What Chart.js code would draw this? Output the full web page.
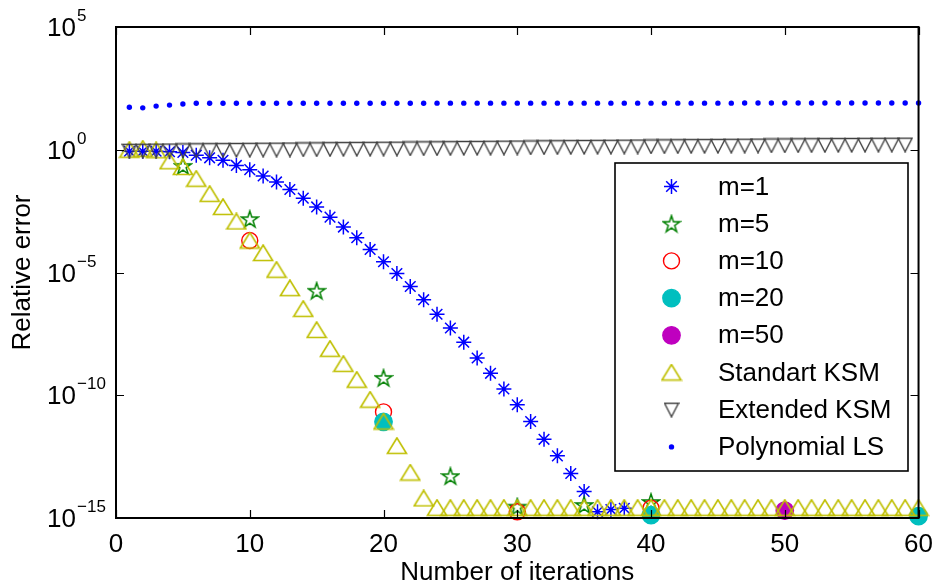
<!DOCTYPE html>
<html>
<head>
<meta charset="utf-8">
<title>Relative error vs iterations</title>
<script src="https://cdn.jsdelivr.net/npm/chart.js@4.4.1/dist/chart.umd.min.js"></script>
<style>
  html, body { margin: 0; padding: 0; background: #fff; }
  canvas { display: block; }
</style>
</head>
<body>
<canvas id="errChart" width="944" height="588"></canvas>
<script>
// Iteration numbers (x axis)
const iterations = [
    1, 2, 3, 4, 5, 6, 7, 8, 9, 10, 11, 12, 13, 14, 15, 16, 17, 18, 19, 20,
    21, 22, 23, 24, 25, 26, 27, 28, 29, 30, 31, 32, 33, 34, 35, 36, 37, 38, 39, 40,
    41, 42, 43, 44, 45, 46, 47, 48, 49, 50, 51, 52, 53, 54, 55, 56, 57, 58, 59, 60
];
const restartIters5 = [5, 10, 15, 20, 25, 30, 35, 40];
const restartIters10 = [10, 20, 30, 40, 50, 60];
const restartIters20 = [20, 40, 60];
const restartIters50 = [50];

// Relative error per method
const errM1 = [
    0.87, 0.87, 0.87, 0.83, 0.78, 0.60, 0.47, 0.37, 0.23, 0.155,
    8.5e-2, 4.9e-2, 2.4e-2, 1.07e-2, 4.7e-3, 1.8e-3, 7.1e-4, 2.6e-4, 8.7e-5, 2.75e-5,
    9.1e-6, 2.7e-6, 7.8e-7, 2.0e-7, 5.5e-8, 1.45e-8, 3.3e-9, 7.8e-10, 1.8e-10, 4.1e-11,
    8.5e-12, 1.6e-12, 3.4e-13, 6.5e-14, 1.2e-14, 1.8e-15, 2.2e-15, 2.5e-15
];
const errM5 = [0.22, 1.5e-3, 1.8e-6, 5.1e-10, 5.1e-14, 2.9e-15, 3.4e-15, 4.5e-15];
const errM10 = [2.0e-4, 2.1e-11, 1.8e-15, 2.5e-15, 2.0e-15, 1.2e-15];
const errM20 = [8.3e-12, 1.3e-15, 1.2e-15];
const errM50 = [2.0e-15];
const errStandard = [
    1.0, 1.1, 0.95, 0.34, 0.20, 6.6e-2, 1.6e-2, 4.7e-3, 1.2e-3, 2.0e-4,
    6.2e-5, 1.3e-5, 2.3e-6, 3.3e-7, 4.6e-8, 7.8e-9, 1.9e-9, 4.3e-10, 6.6e-11, 8.5e-12,
    8.7e-13, 7.1e-14, 6.3e-15, 2.6e-15, 2.6e-15, 2.6e-15, 2.6e-15, 2.6e-15, 2.6e-15, 2.6e-15,
    2.6e-15, 2.6e-15, 2.6e-15, 2.6e-15, 2.6e-15, 2.6e-15, 2.6e-15, 2.6e-15, 2.6e-15, 2.6e-15,
    2.6e-15, 2.6e-15, 2.6e-15, 2.6e-15, 2.6e-15, 2.6e-15, 2.6e-15, 2.6e-15, 2.6e-15, 2.6e-15,
    2.6e-15, 2.6e-15, 2.6e-15, 2.6e-15, 2.6e-15, 2.6e-15, 2.6e-15, 2.6e-15, 2.6e-15, 2.6e-15
];
const errExtended = [
    0.90, 0.91, 0.92, 0.93, 0.94, 0.95, 0.96, 0.97, 0.98, 0.99,
    1.00, 1.01, 1.02, 1.03, 1.04, 1.06, 1.07, 1.08, 1.09, 1.10,
    1.11, 1.13, 1.14, 1.15, 1.16, 1.18, 1.19, 1.20, 1.22, 1.23,
    1.24, 1.26, 1.27, 1.28, 1.30, 1.31, 1.32, 1.34, 1.35, 1.36,
    1.38, 1.39, 1.41, 1.42, 1.43, 1.45, 1.46, 1.48, 1.49, 1.50,
    1.52, 1.53, 1.55, 1.56, 1.57, 1.58, 1.59, 1.60, 1.61
];
const errPolyLS = [
    54, 51, 60, 66, 73, 78, 78, 78, 78, 78,
    78, 78, 78, 78, 78, 78, 78, 78, 78, 78,
    78, 78, 78, 79, 79, 79, 79, 79, 79, 79,
    79, 79, 79, 79, 79, 79, 79, 79, 79, 79,
    79, 79, 79, 79, 79, 79, 80, 80, 80, 80,
    80, 80, 80, 80, 80, 80, 80, 80, 80, 80
];

const seriesLabels = ['m=1', 'm=5', 'm=10', 'm=20', 'm=50', 'Standart KSM', 'Extended KSM', 'Polynomial LS'];
const xTicks = [0, 10, 20, 30, 40, 50, 60];
const yTicks = [1e-15, 1e-10, 1e-5, 1, 1e5];

const FONT = "'Liberation Sans', Arial, Helvetica, sans-serif";

// ---- marker sprites for shapes Chart.js lacks ----
function sprite(w, h, draw) {
    const c = document.createElement('canvas');
    c.width = w;
    c.height = h;
    draw(c.getContext('2d'));
    return c;
}

const pentagram = sprite(20, 20, g => {
    const R = 8.8, r = R * 0.382, cx = 10, cy = 10.7;
    g.beginPath();
    for (let i = 0; i < 10; i++) {
        const a = -Math.PI / 2 + i * Math.PI / 5;
        const rad = i % 2 ? r : R;
        g.lineTo(cx + rad * Math.cos(a), cy + rad * Math.sin(a));
    }
    g.closePath();
    g.strokeStyle = '#008000';
    g.lineWidth = 1.5;
    g.stroke();
});

const triUp = sprite(22, 18, g => {
    g.beginPath();
    g.moveTo(11, 1);
    g.lineTo(1.5, 16.5);
    g.lineTo(20.5, 16.5);
    g.closePath();
    g.strokeStyle = '#bfbf00';
    g.lineWidth = 1.6;
    g.stroke();
});

const triDown = sprite(16, 16, g => {
    g.beginPath();
    g.moveTo(1, 1.5);
    g.lineTo(15, 1.5);
    g.lineTo(8, 15);
    g.closePath();
    g.strokeStyle = '#404040';
    g.lineWidth = 1.4;
    g.stroke();
});

const zip = (xs, ys) => ys.map((y, i) => ({ x: xs[i], y }));

function series(label, data, style) {
    return Object.assign({
        label,
        data,
        showLine: false,
        clip: false,
        pointBorderWidth: 1.4,
        pointBackgroundColor: 'rgba(0,0,0,0)'
    }, style);
}

const datasets = [
    series(seriesLabels[0], zip(iterations, errM1), {
        pointStyle: 'star', pointRadius: 7.5, pointBorderWidth: 1.5, pointBorderColor: '#0000ff'
    }),
    series(seriesLabels[1], zip(restartIters5, errM5), {
        pointStyle: pentagram, pointRadius: 8, pointBorderColor: '#008000'
    }),
    series(seriesLabels[2], zip(restartIters10, errM10), {
        pointStyle: 'circle', pointRadius: 8, pointBorderColor: '#ff0000'
    }),
    series(seriesLabels[3], zip(restartIters20, errM20), {
        pointStyle: 'circle', pointRadius: 8.7, pointBorderColor: '#00bfbf', pointBackgroundColor: '#00bfbf'
    }),
    series(seriesLabels[4], zip(restartIters50, errM50), {
        pointStyle: 'circle', pointRadius: 8.7, pointBorderColor: '#bf00bf', pointBackgroundColor: '#bf00bf'
    }),
    series(seriesLabels[5], zip(iterations, errStandard), {
        pointStyle: triUp, pointRadius: 9, pointBorderColor: '#bfbf00'
    }),
    series(seriesLabels[6], zip(iterations, errExtended), {
        pointStyle: triDown, pointRadius: 7, pointBorderColor: '#404040'
    }),
    series(seriesLabels[7], zip(iterations, errPolyLS), {
        pointStyle: 'circle', pointRadius: 2.7, pointBorderWidth: 0,
        pointBorderColor: '#0000ff', pointBackgroundColor: '#0000ff'
    })
];
// later series sit on top of earlier ones
datasets.forEach((d, i) => { d.order = datasets.length - i; });

// Axes box, inward ticks, 10^k labels and the boxed legend
const framePlugin = {
    id: 'frame',
    afterDatasetsDraw(chart) {
        const { ctx, chartArea: a } = chart;
        const xs = chart.scales.x, ys = chart.scales.y;
        ctx.save();

        ctx.strokeStyle = '#000';
        ctx.lineWidth = 1.2;
        ctx.beginPath();
        xTicks.forEach(v => {
            const px = Math.round(xs.getPixelForValue(v)) + 0.5;
            ctx.moveTo(px, a.bottom); ctx.lineTo(px, a.bottom - 8);
            ctx.moveTo(px, a.top); ctx.lineTo(px, a.top + 8);
        });
        yTicks.forEach(v => {
            const py = Math.round(ys.getPixelForValue(v)) + 0.5;
            ctx.moveTo(a.left, py); ctx.lineTo(a.left + 8, py);
            ctx.moveTo(a.right, py); ctx.lineTo(a.right - 8, py);
        });
        ctx.stroke();

        ctx.lineWidth = 2;
        ctx.strokeRect(a.left, a.top, a.right - a.left, a.bottom - a.top);

        // y tick labels as 10 with a raised exponent
        ctx.fillStyle = '#000';
        ctx.textBaseline = 'middle';
        ctx.textAlign = 'left';
        yTicks.forEach(v => {
            const py = ys.getPixelForValue(v);
            const exp = Math.round(Math.log10(v));
            ctx.font = '26px ' + FONT;
            ctx.fillText('10', 47, py + 2);
            ctx.font = '17px ' + FONT;
            ctx.fillText(exp < 0 ? '\u2212' + (-exp) : String(exp), 77, py - 10.5);
        });

        // legend
        const box = { left: 615, top: 163, right: 908, bottom: 471 };
        ctx.fillStyle = '#fff';
        ctx.fillRect(box.left, box.top, box.right - box.left, box.bottom - box.top);
        ctx.lineWidth = 1.6;
        ctx.strokeStyle = '#000';
        ctx.strokeRect(box.left, box.top, box.right - box.left, box.bottom - box.top);

        const drawPoint = Chart.helpers && Chart.helpers.drawPoint;
        chart.data.datasets.forEach((d, i) => {
            const rowY = box.top + 23.5 + i * 37.2;
            if (drawPoint) {
                ctx.save();
                ctx.strokeStyle = d.pointBorderColor;
                ctx.fillStyle = d.pointBackgroundColor;
                ctx.lineWidth = d.pointBorderWidth;
                drawPoint(ctx, {
                    pointStyle: d.pointStyle,
                    radius: d.pointRadius,
                    rotation: 0,
                    borderWidth: d.pointBorderWidth
                }, 671.5, rowY);
                ctx.restore();
            }
            ctx.fillStyle = '#000';
            ctx.font = '26px ' + FONT;
            ctx.textBaseline = 'middle';
            ctx.fillText(d.label, 718, rowY + 1);
        });

        ctx.restore();
    }
};

const chart = new Chart(document.getElementById('errChart').getContext('2d'), {
    type: 'scatter',
    data: { datasets },
    options: {
        responsive: false,
        animation: false,
        events: [],
        layout: { padding: { top: 27, right: 16, left: 0, bottom: 0 } },
        plugins: {
            legend: { display: false },
            tooltip: { enabled: false }
        },
        scales: {
            x: {
                type: 'linear',
                min: 0,
                max: 60,
                afterBuildTicks: s => { s.ticks = xTicks.map(v => ({ value: v })); },
                afterFit: s => { s.height = 70; },
                grid: { display: false, drawTicks: false },
                border: { display: false },
                ticks: {
                    color: '#000',
                    padding: 11,
                    maxRotation: 0,
                    font: { family: FONT, size: 26 }
                },
                title: {
                    display: true,
                    text: 'Number of iterations',
                    color: '#000',
                    padding: { top: 0, bottom: 0 },
                    font: { family: FONT, size: 26 }
                }
            },
            y: {
                type: 'logarithmic',
                min: 1e-15,
                max: 1e5,
                afterBuildTicks: s => { s.ticks = yTicks.map(v => ({ value: v })); },
                afterFit: s => { s.width = 116; },
                grid: { display: false, drawTicks: false },
                border: { display: false },
                ticks: { display: false },
                title: {
                    display: true,
                    text: 'Relative error',
                    color: '#000',
                    padding: { top: 7, bottom: 0 },
                    font: { family: FONT, size: 26 }
                }
            }
        }
    },
    plugins: [framePlugin]
});
</script>
</body>
</html>
